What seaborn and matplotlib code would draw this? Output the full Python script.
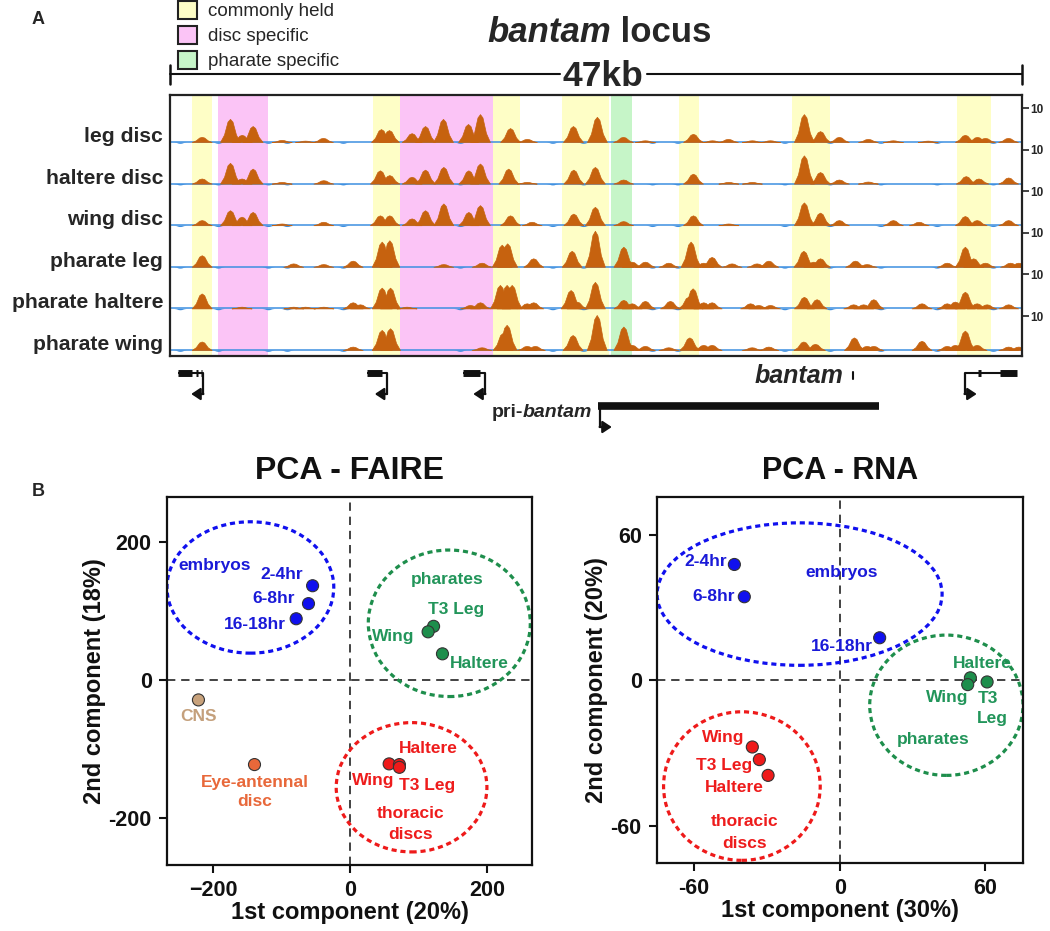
import matplotlib
matplotlib.use("Agg")
import numpy as np
import pandas as pd
import matplotlib.pyplot as plt
import matplotlib.transforms as mtransforms
from matplotlib.patches import Ellipse, Patch
from matplotlib import font_manager as fm
import seaborn as sns

# ======================= DATA =======================
# ---- Panel A : FAIRE tracks across the 47 kb bantam locus (positions in kb) ----
locus_kb = 47
track_names = ["leg disc", "haltere disc", "wing disc",
               "pharate leg", "pharate haltere", "pharate wing"]
regions_common = [(1.21, 2.32), (11.2, 12.7), (17.8, 19.3), (21.6, 24.2),
                  (28.1, 29.2), (34.3, 36.4), (43.4, 45.3)]
regions_disc = [(2.65, 5.41), (12.7, 17.8)]
regions_pharate = [(24.3, 25.5)]

# (peak centre kb, signal height)
peaks_leg_disc = [(1.75, 1.5), (3.31, 6.8), (3.96, 2.1), (4.56, 4.7), (6.16, 0.6), (7.45, 0.4),
                  (8.44, 1.2), (11.64, 3.8), (12.08, 3.5), (13.33, 2.6), (14.07, 4.7), (15.06, 6.8),
                  (16.44, 5.3), (17.10, 8.2), (18.76, 4.1), (19.69, 0.9), (22.23, 4.7), (23.55, 7.4),
                  (24.99, 1.5), (26.2, 0.5), (28.85, 2.4), (29.9, 0.5), (30.78, 0.9), (32.1, 0.5),
                  (33.1, 0.5), (34.97, 8.2), (35.86, 3.2), (36.9, 1.5), (38.5, 0.9), (39.88, 0.5),
                  (41.8, 0.4), (43.85, 2.1), (44.52, 1.5), (44.96, 1.2), (46.23, 1.2)]
peaks_haltere_disc = [(1.75, 1.5), (3.31, 6.1), (3.95, 1.5), (4.56, 4.4), (6.16, 0.5), (8.46, 1.0),
                      (11.58, 3.9), (12.1, 2.5), (13.33, 2.0), (14.07, 4.1), (15.08, 4.9), (16.46, 3.9),
                      (17.1, 5.9), (18.66, 4.4), (19.68, 0.5), (22.25, 4.1), (23.44, 4.9), (25.0, 1.2),
                      (28.85, 2.9), (30.8, 0.5), (32.1, 0.5), (34.97, 8.3), (35.86, 3.4), (36.9, 1.2),
                      (38.5, 0.6), (43.9, 2.2), (44.6, 1.5), (46.24, 1.8)]
peaks_wing_disc = [(1.75, 1.5), (3.31, 4.4), (3.95, 2.5), (4.56, 3.9), (6.16, 0.5), (8.46, 1.0),
                   (11.58, 2.9), (12.1, 2.9), (13.33, 2.0), (14.07, 4.4), (15.08, 6.4), (16.46, 3.9),
                   (17.1, 5.9), (18.76, 2.9), (19.95, 1.0), (22.25, 3.4), (23.44, 5.4), (25.0, 1.2),
                   (28.85, 2.9), (30.8, 0.5), (34.97, 6.7), (35.86, 3.7), (36.9, 1.5), (39.88, 1.5),
                   (41.3, 1.0), (43.85, 2.7), (44.5, 1.5), (46.24, 1.5)]
peaks_pharate_leg = [(1.75, 3.4), (6.8, 1.0), (8.46, 0.8), (10.08, 1.8), (11.68, 7.4), (12.1, 7.8),
                     (15.08, 0.8), (17.19, 1.2), (18.3, 6.5), (18.6, 6.9), (20.04, 2.5), (22.16, 4.7),
                     (23.44, 10.6), (25.01, 5.9), (25.47, 1.5), (26.2, 1.5), (27.49, 1.2), (28.72, 7.4),
                     (29.42, 1.2), (29.88, 2.9), (30.98, 1.0), (32.36, 1.0), (33.01, 1.8), (34.94, 4.7),
                     (35.49, 1.5), (35.86, 2.5), (37.79, 1.8), (38.43, 0.8), (42.85, 1.2), (43.85, 5.9),
                     (44.31, 2.5), (44.96, 1.2), (46.34, 1.2), (46.8, 1.2)]
peaks_pharate_haltere = [(1.75, 4.4), (3.95, 0.5), (6.8, 0.5), (7.45, 0.5), (8.46, 0.5), (10.08, 1.8),
                         (10.48, 1.2), (11.68, 6.1), (12.14, 6.1), (13.05, 0.5), (16.55, 1.0), (17.1, 1.8),
                         (18.2, 6.9), (18.57, 6.9), (18.85, 6.9), (19.68, 1.5), (20.04, 1.8), (22.1, 5.4),
                         (22.43, 2.0), (23.44, 7.8), (25.01, 2.5), (25.47, 1.5), (26.2, 2.2), (27.58, 2.2),
                         (28.59, 3.4), (28.83, 5.9), (29.42, 1.8), (29.88, 1.8), (32.0, 1.5), (32.45, 1.0),
                         (33.1, 1.0), (34.97, 3.4), (35.67, 2.7), (37.69, 1.2), (38.24, 1.2), (38.8, 2.7),
                         (41.46, 1.5), (42.85, 1.5), (43.3, 2.0), (43.85, 4.9), (44.5, 1.5), (45.05, 1.2),
                         (46.24, 1.2)]
peaks_pharate_wing = [(1.75, 2.5), (10.08, 1.0), (11.68, 5.9), (12.14, 6.4), (17.19, 0.8), (18.35, 5.0),
                      (18.57, 7.4), (19.68, 1.2), (20.13, 1.2), (22.21, 4.4), (23.54, 10.3), (25.01, 6.9),
                      (25.47, 1.5), (26.2, 1.2), (27.49, 0.8), (28.65, 3.7), (29.42, 1.5), (29.88, 1.5),
                      (32.09, 0.8), (33.01, 1.0), (34.94, 2.5), (35.58, 1.8), (37.73, 3.7), (38.43, 1.2),
                      (38.8, 1.2), (41.46, 2.7), (42.85, 1.2), (43.3, 1.5), (43.85, 5.7), (44.5, 1.5),
                      (46.24, 1.0), (46.8, 1.0)]
all_peaks = [peaks_leg_disc, peaks_haltere_disc, peaks_wing_disc,
             peaks_pharate_leg, peaks_pharate_haltere, peaks_pharate_wing]
dips_kb = [0.55, 2.65, 5.41, 6.45, 9.54, 16.0, 21.1, 22.8, 26.6, 28.0, 33.9, 36.4, 39.2, 42.3, 45.4]
track_tick_value = 10

# gene models (kb)
gene_span = [(0.44, 1.82), (10.85, 11.95), (16.18, 17.38), (43.85, 46.72)]
gene_exons = [[(0.44, 1.21), (1.44, 1.52), (1.70, 1.78)], [(10.85, 11.68)],
              [(16.18, 17.1)], [(44.55, 44.75), (45.8, 46.72)]]
gene_tss = [1.82, 11.95, 17.38, 43.85]
gene_strand = [-1, -1, -1, 1]
pri_bantam_span = (23.6, 39.1)
pri_bantam_tss = 23.72
bantam_mirna_kb = 37.68

# ---- Panel B : PCA ----
faire_sample = ["2-4hr", "6-8hr", "16-18hr", "T3 Leg", "Wing", "Haltere", "CNS",
                "Eye-antennal disc", "Wing", "Haltere", "T3 Leg"]
faire_group = ["embryos"] * 3 + ["pharates"] * 3 + ["CNS", "Eye-antennal disc"] + ["thoracic discs"] * 3
faire_pc1 = [-55, -61, -79, 122, 114, 135, -222, -140, 57, 72, 72]
faire_pc2 = [137, 111, 89, 78, 70, 38, -29, -123, -122, -123, -127]

rna_sample = ["2-4hr", "6-8hr", "16-18hr", "Haltere", "Wing", "T3 Leg", "Wing", "T3 Leg", "Haltere"]
rna_group = ["embryos"] * 3 + ["pharates"] * 3 + ["thoracic discs"] * 3
rna_pc1 = [-43.4, -39.3, 16.5, 53.9, 52.8, 60.8, -36.0, -33.1, -29.5]
rna_pc2 = [47.7, 34.4, 17.5, 1.0, -1.8, -0.7, -27.5, -32.7, -39.2]

faire_xticks = [-200, 0, 200]
faire_xticklabels = ["\u2212200", "0", "200"]
faire_yticks = [-200, 0, 200]
faire_yticklabels = ["-200", "0", "200"]
rna_ticks = [-60, 0, 60]
rna_ticklabels = ["-60", "0", "60"]

# ======================= STYLE =======================
sns.set_theme(style="white")
plt.rcParams["font.family"] = ["Liberation Sans", "DejaVu Sans"]
plt.rcParams["font.weight"] = "bold"
plt.rcParams["axes.labelweight"] = "bold"
names = {f.name for f in fm.fontManager.ttflist}
NARROW = ["Liberation Sans Narrow", "Liberation Sans"] if "Liberation Sans Narrow" in names else ["Liberation Sans"]

C_COMMON, C_DISC, C_PHAR = "#fefec6", "#fbc4f6", "#c6f5c8"
C_PEAK, C_BLUE = "#c6620f", "#3d8fe0"
group_colors = {"embryos": "#1010ee", "pharates": "#1e8e4c", "thoracic discs": "#ee1a1a",
                "CNS": "#c8a27c", "Eye-antennal disc": "#e8683a"}
text_colors = {"embryos": "#1a1ad8", "pharates": "#22955a", "thoracic discs": "#ee1c1c",
               "CNS": "#c4a07c", "Eye-antennal disc": "#e8683a"}

W, H = 1050, 931
fig = plt.figure(figsize=(W / 100, H / 100), dpi=100)
fig.patch.set_facecolor("white")


def box(x0, y0, x1, y1):
    return [x0 / W, 1 - y1 / H, (x1 - x0) / W, (y1 - y0) / H]


# overlay for free text
axO = fig.add_axes([0, 0, 1, 1])
axO.set_xlim(0, W)
axO.set_ylim(H, 0)
axO.axis("off")
axO.text(38, 20, "A", fontsize=13, ha="center", va="center")
axO.text(38, 492, "B", fontsize=13, ha="center", va="center")
t1 = axO.text(487, 42, "bantam", fontsize=25, style="italic", ha="left", va="baseline")
axO.annotate(" locus", xy=(1, 0), xycoords=t1, fontsize=25, ha="left", va="bottom")
axO.legend(handles=[Patch(fc=C_COMMON, ec="#222222", lw=1.5, label="commonly held"),
                    Patch(fc=C_DISC, ec="#222222", lw=1.5, label="disc specific"),
                    Patch(fc=C_PHAR, ec="#222222", lw=1.5, label="pharate specific")],
           loc="upper left", bbox_to_anchor=(178 / W, 1 - 1 / H), bbox_transform=fig.transFigure,
           frameon=False, prop={"size": 13.5, "weight": "normal"}, handlelength=1.0,
           handleheight=1.1, handletextpad=0.6, labelspacing=0.3, borderpad=0, borderaxespad=0)

# ======================= PANEL A tracks =======================
axT = fig.add_axes(box(170, 95, 1022, 356))
PXU = 3.4
ytop = 261 / PXU
bases = [(356 - 142) / PXU - i * 41.6 / PXU for i in range(6)]
axT.set_xlim(0, locus_kb)
axT.set_ylim(0, ytop)
for regs, col in [(regions_common, C_COMMON), (regions_disc, C_DISC), (regions_pharate, C_PHAR)]:
    for a, b in regs:
        axT.axvspan(a, b, color=col, lw=0, zorder=0)

shape_dx = np.array([-1, -0.6, -0.25, 0, 0.25, 0.6, 1.0])
shape_dy = np.array([0, 0.32, 0.88, 1, 0.88, 0.32, 0])
PEAK_W = 0.55
for base, peaks in zip(bases, all_peaks):
    axT.plot([0, locus_kb], [base, base], color=C_BLUE, lw=1.1, zorder=1)
    for c in dips_kb:
        axT.fill_between(c + shape_dx * 0.35, base, base - 0.4 * shape_dy, color=C_BLUE, lw=0, zorder=1)
    for c, h in peaks:
        axT.fill_between(c + shape_dx * PEAK_W, base, base + h * shape_dy,
                         facecolor=C_PEAK, edgecolor=C_PEAK, lw=0.5, zorder=2)

for sp in axT.spines.values():
    sp.set_color("#222222")
    sp.set_linewidth(1.6)
axT.set_xticks([])
axT.yaxis.tick_right()
axT.set_yticks([b + track_tick_value for b in bases])
axT.set_yticklabels([str(track_tick_value)] * 6)
axT.tick_params(axis="y", right=True, left=False, length=5, width=1.2, labelsize=8.5, pad=1,
                color="#222222")
for name, base in zip(track_names, bases):
    axT.annotate(name, xy=(0, base), xycoords=(axT.transAxes, axT.transData),
                 xytext=(-5, 0), textcoords="offset points", ha="right", va="baseline",
                 fontsize=15.2)

# 47 kb scale bar (line broken around its label)
trans = mtransforms.blended_transform_factory(axT.transData, axT.transAxes)
yf = lambda px: (356 - px) / 261.0
scale_gap = (21.5, 26.3)
for seg in [(0, scale_gap[0]), (scale_gap[1], locus_kb)]:
    axT.plot(seg, [yf(74), yf(74)], transform=trans, clip_on=False, color="#111111", lw=1.5)
for xk in (0, locus_kb):
    axT.plot([xk, xk], [yf(65), yf(84)], transform=trans, clip_on=False, color="#111111", lw=1.8)
axT.text(sum(scale_gap) / 2, yf(76), "47kb", transform=trans, ha="center", va="center",
         fontsize=25.5, clip_on=False)

# gene models
axG = fig.add_axes(box(170, 358, 1022, 440))
axG.set_xlim(0, locus_kb)
axG.set_ylim(440, 358)
axG.axis("off")
ROW_GENE, ROW_ARROW, ROW_PRI, ROW_PRI_ARROW = 373, 394, 406, 427
ARROW_KB = 0.65
aprops = dict(arrowstyle="-|>,head_length=0.45,head_width=0.3", lw=1.6, color="#111111",
              shrinkA=0, shrinkB=0, mutation_scale=12)
for (s, e), exons, tss, strand in zip(gene_span, gene_exons, gene_tss, gene_strand):
    axG.plot([s, e], [ROW_GENE] * 2, color="#111111", lw=1.5, solid_capstyle="butt")
    for a, b in exons:
        axG.plot([a, b], [ROW_GENE] * 2, color="#111111", lw=5, solid_capstyle="butt")
    axG.plot([tss, tss], [ROW_GENE, ROW_ARROW], color="#111111", lw=1.6)
    axG.annotate("", xy=(tss + strand * ARROW_KB, ROW_ARROW), xytext=(tss - strand * 0.02, ROW_ARROW),
                 arrowprops=aprops)
axG.plot(pri_bantam_span, [ROW_PRI] * 2, color="#111111", lw=5.5, solid_capstyle="butt")
axG.plot([pri_bantam_tss, pri_bantam_tss], [ROW_PRI, ROW_PRI_ARROW], color="#111111", lw=1.6)
axG.annotate("", xy=(pri_bantam_tss + ARROW_KB, ROW_PRI_ARROW), xytext=(pri_bantam_tss - 0.02, ROW_PRI_ARROW),
             arrowprops=aprops)
axG.plot([bantam_mirna_kb] * 2, [372, 379], color="#111111", lw=1.5)
tb = axG.text(bantam_mirna_kb - 0.55, 383, "bantam", family=NARROW, style="italic", fontsize=18,
              ha="right", va="baseline")
tp = axG.text(pri_bantam_span[0] - 0.3, 417, "bantam", family=NARROW, style="italic", fontsize=14,
              ha="right", va="baseline")
axG.annotate("pri-", xy=(0, 0), xycoords=tp, family=NARROW, fontsize=14, ha="right", va="bottom")

# ======================= PANEL B PCA =======================
faire_df = pd.DataFrame({"pc1": faire_pc1, "pc2": faire_pc2, "group": faire_group, "sample": faire_sample})
rna_df = pd.DataFrame({"pc1": rna_pc1, "pc2": rna_pc2, "group": rna_group, "sample": rna_sample})

# annotation layout (ellipse centre, width, height in data units) and label positions
faire_ellipses = [("embryos", -146, 134.5, 244, 191), ("pharates", 145, 82.4, 237, 213),
                  ("thoracic discs", 89.8, -156, 220.5, 188)]
rna_ellipses = [("embryos", -16.5, 35.5, 117.5, 58.7), ("pharates", 44, -10.3, 63.2, 57.8),
                ("thoracic discs", -40.3, -43.6, 64.6, 61.2)]
faire_text = [("embryos", -197.6, 167, "embryos"), ("2-4hr", -100, 154, "embryos"),
              ("6-8hr", -112, 118, "embryos"), ("16-18hr", -139, 80, "embryos"),
              ("pharates", 142, 146.5, "pharates"), ("T3 Leg", 155, 103, "pharates"),
              ("Wing", 63, 63, "pharates"), ("Haltere", 189, 24, "pharates"),
              ("CNS", -222, -53, "CNS"), ("Eye-antennal", -139, -149, "Eye-antennal disc"),
              ("disc", -139, -177, "Eye-antennal disc"), ("Haltere", 114, -99, "thoracic discs"),
              ("Wing", 34, -145.5, "thoracic discs"), ("T3 Leg", 112, -154, "thoracic discs"),
              ("thoracic", 89, -194, "thoracic discs"), ("discs", 89, -224.5, "thoracic discs")]
rna_text = [("2-4hr", -55.4, 48.8, "embryos"), ("embryos", 0.7, 44.2, "embryos"),
            ("6-8hr", -51.9, 34.6, "embryos"), ("16-18hr", 1, 13.7, "embryos"),
            ("Haltere", 58.7, 6.9, "pharates"), ("Wing", 44.3, -7.1, "pharates"),
            ("T3", 61, -7.6, "pharates"), ("Leg", 62.8, -15.8, "pharates"),
            ("pharates", 38.5, -24.5, "pharates"), ("Wing", -47.8, -23.6, "thoracic discs"),
            ("T3 Leg", -47.8, -35.3, "thoracic discs"), ("Haltere", -43.3, -44.2, "thoracic discs"),
            ("thoracic", -39.2, -58.4, "thoracic discs"), ("discs", -39.2, -67.3, "thoracic discs")]

panels = [
    (box(167, 497, 532, 865), faire_df, faire_ellipses, faire_text, (-268, 266), (-269, 266),
     faire_xticks, faire_xticklabels, faire_yticks, faire_yticklabels,
     "PCA - FAIRE", "1st component (20%)", "2nd component (18%)", 23),
    (box(657, 497, 1023, 863), rna_df, rna_ellipses, rna_text, (-75.3, 75.6), (-75.3, 75.5),
     rna_ticks, rna_ticklabels, rna_ticks, rna_ticklabels,
     "PCA - RNA", "1st component (30%)", "2nd component (20%)", 22),
]
for (rect, df, ells, texts, xl, yl, xt, xtl, yt, ytl, title, xlab, ylab, tfs) in panels:
    ax = fig.add_axes(rect)
    ax.set_xlim(*xl)
    ax.set_ylim(*yl)
    ax.axhline(0, color="#222222", lw=1.2, ls=(0, (5, 3.5)), zorder=1)
    ax.axvline(0, color="#222222", lw=1.2, ls=(0, (5, 3.5)), zorder=1)
    for g, cx, cy, ew, eh in ells:
        ax.add_patch(Ellipse((cx, cy), ew, eh, fill=False, ec=group_colors[g], lw=2.3,
                             ls=(0, (1.6, 1.2)), zorder=2))
    sns.scatterplot(data=df, x="pc1", y="pc2", hue="group", palette=group_colors, s=75,
                    edgecolor="#333333", linewidth=0.8, legend=False, ax=ax, zorder=4)
    for s, tx, ty, g in texts:
        ax.text(tx, ty, s, color=text_colors[g], fontsize=12.5, ha="center", va="center", zorder=5)
    ax.set_xticks(xt)
    ax.set_xticklabels(xtl)
    ax.set_yticks(yt)
    ax.set_yticklabels(ytl)
    ax.tick_params(axis="both", which="both", bottom=True, left=True, direction="out", length=6,
                   width=1.5, labelsize=15.5, pad=5, color="#111111", labelcolor="#111111")
    for sp in ax.spines.values():
        sp.set_color("#111111")
        sp.set_linewidth(1.6)
    ax.set_xlabel(xlab, fontsize=17, labelpad=0, color="#111111")
    ax.set_ylabel(ylab, fontsize=17, labelpad=2, color="#111111")
    ax.set_title(title, fontsize=tfs, pad=13, fontweight="bold", color="#111111")

fig.savefig("out.png", dpi=100, facecolor="white")
